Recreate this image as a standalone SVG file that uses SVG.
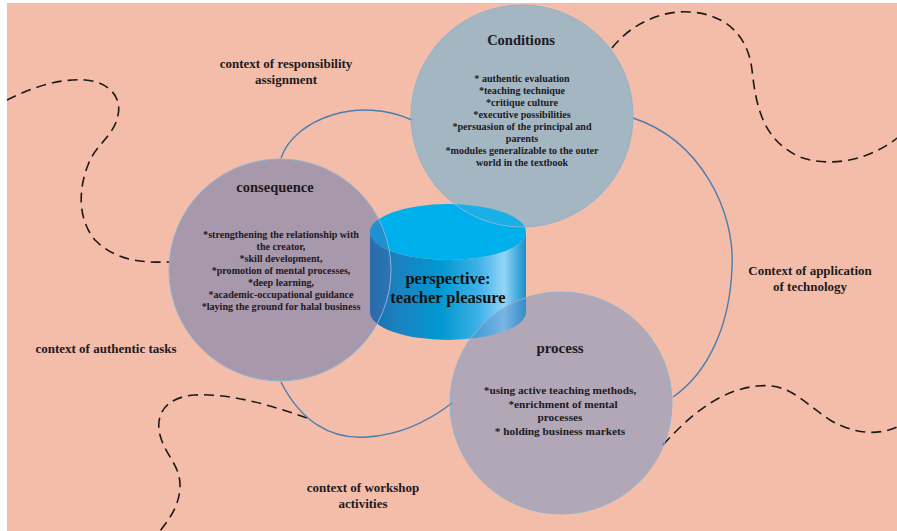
<svg xmlns="http://www.w3.org/2000/svg" width="897" height="531" viewBox="0 0 897 531">
<style>
.bg{fill:#F4BDAA}
.circ{stroke:#8DB3D0;stroke-width:1;fill-opacity:0.43}
.link{fill:none;stroke:#4A7DB0;stroke-width:1.4}
.dash{fill:none;stroke:#1a1a1a;stroke-width:1.6;stroke-dasharray:10 6}
text{font-family:"Liberation Serif","Times New Roman",serif;font-weight:bold;fill:#1c1a22;text-anchor:middle}
.title{font-size:14.5px}
.ptitle{font-size:15px}
.body{font-size:10.1px}
.pbody{font-size:11.3px}
.ctx{font-size:13px}
.cyl{font-size:16.5px;fill:#111}
</style>
<defs>
<linearGradient id="side" x1="0" y1="0" x2="1" y2="0">
<stop offset="0" stop-color="#1A6FAE"/>
<stop offset="0.18" stop-color="#1A82C0"/>
<stop offset="0.45" stop-color="#0098D0"/>
<stop offset="0.7" stop-color="#3FB2E8"/>
<stop offset="0.86" stop-color="#92D5F6"/>
<stop offset="1" stop-color="#1590CC"/>
</linearGradient>
</defs>
<rect x="0" y="0" width="897" height="531" fill="#ffffff"/>
<rect class="bg" x="7" y="3" width="890" height="528"/>

<g id="dashed-boundaries">
<path class="dash" d="M7,100 C30,88 60,78 85,80 C110,82 122,98 118,115 C115,135 95,145 88,165 C78,190 78,220 95,240 C115,260 140,263 170,262"/>
<path class="dash" d="M612,48 C630,25 660,10 690,12 C725,14 748,35 752,70 C756,105 762,140 800,157 C830,168 870,160 897,138"/>
<path class="dash" d="M663,445 C690,415 720,390 757,386 C790,383 800,400 830,420 C855,435 880,435 897,427"/>
<path class="dash" d="M307,418 C270,405 230,393 195,395 C165,397 155,415 160,435 C165,455 180,465 180,485 C180,505 170,518 160,531"/>
</g>

<g id="connectors">
<path class="link" d="M281,158 C295,118 360,96 412,120"/>
<path class="link" d="M633,118 C700,140 735,210 732,267 C730,330 705,375 673,397"/>
<path class="link" d="M281,382 C300,420 330,440 367,437 C400,435 430,420 452,403"/>
</g>

<g id="perspective">
<path d="M370,232 L370,312 A78,28 0 0 0 526,312 L526,232 A78,28 0 0 1 370,232 Z" fill="url(#side)"/>
<ellipse cx="448" cy="232" rx="78" ry="28" fill="#00B0EC"/>
</g>

<g id="conditions">
<circle class="circ" cx="522" cy="116" r="111" fill="#3AAFE2"/>
</g>
<g id="consequence">
<circle class="circ" cx="280" cy="270" r="111" fill="#4369AF"/>
</g>
<g id="process">
<circle class="circ" cx="561" cy="403" r="111" fill="#5B8CC8"/>
</g>

<g id="perspective-label">
<text class="cyl" x="448" y="284">perspective:</text>
<text class="cyl" x="448" y="303">teacher pleasure</text>
</g>

<g id="conditions-label">
<text class="title" x="521" y="45">Conditions</text>
<text class="body" x="522" y="82">* authentic evaluation</text>
<text class="body" x="522" y="94">*teaching technique</text>
<text class="body" x="522" y="106">*critique culture</text>
<text class="body" x="522" y="118">*executive possibilities</text>
<text class="body" x="522" y="130">*persuasion of the principal and</text>
<text class="body" x="522" y="142">parents</text>
<text class="body" x="522" y="154">*modules generalizable to the outer</text>
<text class="body" x="522" y="166">world in the textbook</text>
</g>

<g id="consequence-label">
<text class="title" x="275" y="192">consequence</text>
<text class="body" x="281" y="238">*strengthening the relationship with</text>
<text class="body" x="281" y="250">the creator,</text>
<text class="body" x="281" y="262">*skill development,</text>
<text class="body" x="281" y="274">*promotion of mental processes,</text>
<text class="body" x="281" y="286">*deep learning,</text>
<text class="body" x="281" y="298">*academic-occupational guidance</text>
<text class="body" x="281" y="310">*laying the ground for halal business</text>
</g>

<g id="process-label">
<text class="ptitle" x="560" y="353">process</text>
<text class="pbody" x="560" y="394">*using active teaching methods,</text>
<text class="pbody" x="563" y="408">*enrichment of mental</text>
<text class="pbody" x="560" y="421">processes</text>
<text class="pbody" x="560" y="435">* holding business markets</text>
</g>

<g id="contexts">
<text class="ctx" x="286" y="68">context of responsibility</text>
<text class="ctx" x="286" y="84">assignment</text>
<text class="ctx" x="810" y="275">Context of application</text>
<text class="ctx" x="810" y="291">of technology</text>
<text class="ctx" x="106" y="353">context of authentic tasks</text>
<text class="ctx" x="363" y="492">context of workshop</text>
<text class="ctx" x="363" y="508">activities</text>
</g>
</svg>
